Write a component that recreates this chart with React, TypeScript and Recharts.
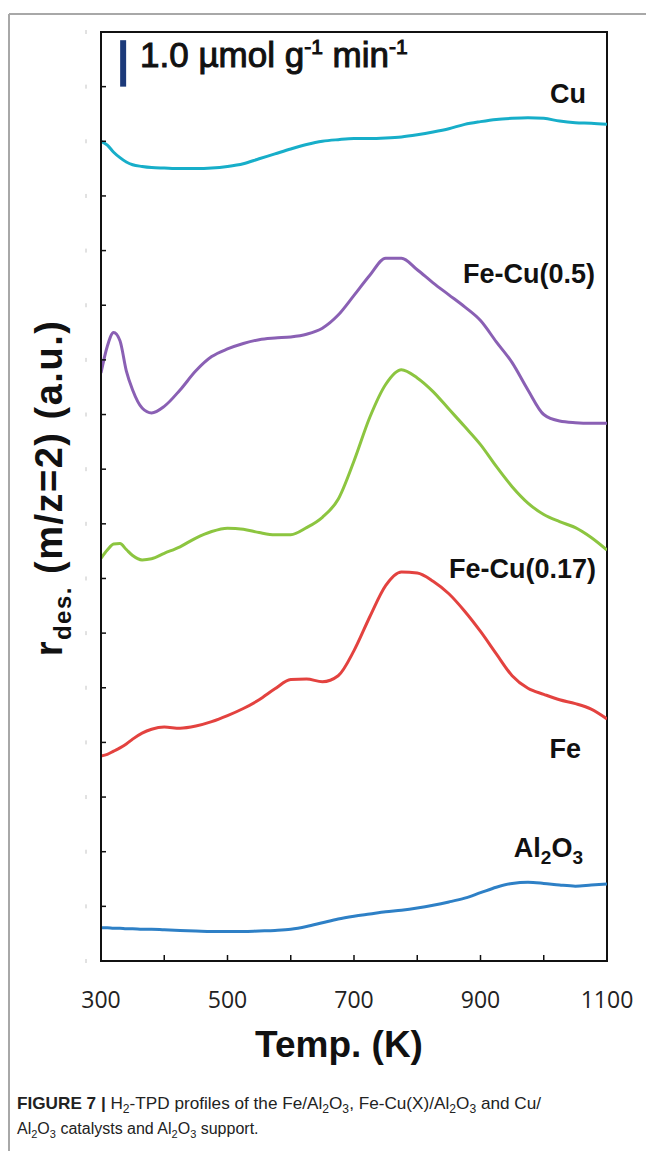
import React from 'react';
import { LineChart, Line, XAxis, YAxis, ReferenceLine, ReferenceArea } from 'recharts';

// temperature grid (K), finer at the start for the low-T peaks
const temps = [300, 310, 320, 330, 340, 350, 365, 380, 400, 425, 450, 475, 500, 525, 550, 575, 600, 625, 650, 675, 700, 725, 750, 775, 800, 825, 850, 875, 900, 925, 950, 975, 1000, 1025, 1050, 1075, 1100];

// offset signals, in y-tick units
const cuVals = [15.0, 14.93, 14.8, 14.7, 14.62, 14.57, 14.54, 14.52, 14.51, 14.5, 14.5, 14.51, 14.54, 14.59, 14.68, 14.77, 14.86, 14.94, 15.0, 15.03, 15.05, 15.05, 15.06, 15.08, 15.12, 15.17, 15.23, 15.31, 15.36, 15.4, 15.42, 15.43, 15.42, 15.37, 15.34, 15.33, 15.31];
const feCu05Vals = [10.76, 11.25, 11.5, 11.35, 10.8, 10.45, 10.12, 10.03, 10.15, 10.45, 10.8, 11.06, 11.2, 11.3, 11.37, 11.4, 11.42, 11.47, 11.58, 11.82, 12.18, 12.55, 12.86, 12.86, 12.65, 12.41, 12.19, 11.97, 11.72, 11.33, 10.95, 10.45, 10.0, 9.88, 9.85, 9.84, 9.84];
const feCu017Vals = [7.37, 7.52, 7.63, 7.64, 7.53, 7.42, 7.34, 7.36, 7.46, 7.58, 7.74, 7.86, 7.92, 7.9, 7.84, 7.8, 7.8, 7.93, 8.12, 8.45, 9.15, 9.95, 10.55, 10.82, 10.67, 10.42, 10.1, 9.78, 9.45, 9.05, 8.68, 8.38, 8.17, 8.04, 7.93, 7.75, 7.52];
const feVals = [3.75, 3.78, 3.84, 3.9, 3.97, 4.06, 4.17, 4.24, 4.28, 4.26, 4.3, 4.38, 4.49, 4.62, 4.78, 4.98, 5.15, 5.16, 5.11, 5.22, 5.68, 6.3, 6.87, 7.12, 7.1, 6.95, 6.72, 6.4, 6.03, 5.62, 5.22, 4.99, 4.88, 4.78, 4.71, 4.61, 4.43];
const al2o3Vals = [0.61, 0.61, 0.6, 0.6, 0.59, 0.59, 0.58, 0.58, 0.57, 0.56, 0.55, 0.54, 0.54, 0.54, 0.55, 0.56, 0.58, 0.63, 0.7, 0.77, 0.82, 0.86, 0.9, 0.93, 0.97, 1.02, 1.08, 1.15, 1.25, 1.35, 1.42, 1.44, 1.42, 1.39, 1.37, 1.39, 1.41];

const xTicks = [300, 400, 500, 600, 700, 800, 900, 1000, 1100];
const xLabels = [300, 500, 700, 900, 1100];
const yTicks = Array.from({ length: 18 }, (_, i) => i);

// 1.0 umol g-1 min-1 scale bar
const scaleBarT = 335;
const scaleBarRange = [16.0, 16.85];

const data = temps.map((T, i) => ({
  T,
  cu: cuVals[i],
  feCu05: feCu05Vals[i],
  feCu017: feCu017Vals[i],
  fe: feVals[i],
  al2o3: al2o3Vals[i],
}));

const series = [
  { key: 'cu', color: '#17aec9' },
  { key: 'feCu05', color: '#8a60b4' },
  { key: 'feCu017', color: '#8cc540' },
  { key: 'fe', color: '#e3423f' },
  { key: 'al2o3', color: '#2e80c6' },
];

const ARIAL = "'Liberation Sans', Arial, sans-serif";

const XTick = (props: any) => {
  const { x, y, payload } = props;
  if (!xLabels.includes(payload.value)) return <g />;
  return (
    <text x={x} y={y} textAnchor="middle" fontFamily="'Open Sans', sans-serif" fontSize={23} fill="#222">
      {payload.value}
    </text>
  );
};

// faint leftover tick-label marks left of the y axis
const YTick = (props: any) => {
  const { x, y } = props;
  return <line x1={x} x2={x} y1={y - 2} y2={y + 2} stroke="#c4c4c4" strokeWidth={1} />;
};

export default function App() {
  return (
    <div style={{ position: 'relative', width: 646, height: 1151, background: '#fff' }}>
      <style>{'body{margin:0}'}</style>
      <div style={{ position: 'absolute', left: 0, top: 0 }}>
        <LineChart width={646} height={1151} data={data} margin={{ top: 32, right: 39, bottom: 160, left: 81 }}>
          <XAxis
            type="number"
            dataKey="T"
            domain={[300, 1100]}
            ticks={xTicks}
            height={30}
            axisLine={{ stroke: '#111', strokeWidth: 2 }}
            tickLine={{ stroke: '#111', strokeWidth: 1.5 }}
            tickSize={-6}
            tickMargin={53}
            tick={<XTick />}
            allowDataOverflow
          />
          <YAxis
            type="number"
            domain={[0, 17]}
            ticks={yTicks}
            width={20}
            axisLine={{ stroke: '#111', strokeWidth: 2 }}
            tickLine={{ stroke: '#111', strokeWidth: 1.5 }}
            tickSize={-5}
            tickMargin={20}
            tick={<YTick />}
            allowDataOverflow
          />
          <ReferenceArea x1={300} x2={1100} y1={0} y2={17} fill="none" fillOpacity={0} stroke="#111" strokeWidth={2} />
          {series.map((s) => (
            <Line
              key={s.key}
              type="monotone"
              dataKey={s.key}
              stroke={s.color}
              strokeWidth={3}
              dot={false}
              isAnimationActive={false}
            />
          ))}
          <ReferenceLine
            segment={[
              { x: scaleBarT, y: scaleBarRange[0] },
              { x: scaleBarT, y: scaleBarRange[1] },
            ]}
            stroke="#1c3a7a"
            strokeWidth={6}
          />
        </LineChart>
      </div>
      <svg width={646} height={1151} style={{ position: 'absolute', left: 0, top: 0, pointerEvents: 'none' }}>
        {/* figure frame */}
        <line x1={9} x2={646} y1={14} y2={14} stroke="#a8a8a8" strokeWidth={2} />
        <line x1={9} x2={9} y1={14} y2={1151} stroke="#a8a8a8" strokeWidth={2} />

        <text x={140} y={67} fontFamily={ARIAL} fontSize={35} fill="#111" stroke="#111" strokeWidth={1}>
          1.0 µmol g<tspan dy={-13} fontSize={21}>-1</tspan>
          <tspan dy={13}> min</tspan>
          <tspan dy={-13} fontSize={21}>-1</tspan>
        </text>

        <g fontFamily={ARIAL} fontWeight="bold" fontSize={27} fill="#111" textAnchor="end">
          <text x={586} y={103}>Cu</text>
          <text x={595} y={283}>Fe-Cu(0.5)</text>
          <text x={596} y={578}>Fe-Cu(0.17)</text>
          <text x={581} y={758}>Fe</text>
          <text x={583} y={857}>
            Al<tspan dy={7} fontSize={19}>2</tspan>
            <tspan dy={-7}>O</tspan>
            <tspan dy={7} fontSize={19}>3</tspan>
          </text>
        </g>

        <text
          transform="translate(62,488) rotate(-90)"
          textAnchor="middle"
          fontFamily={ARIAL}
          fontWeight="bold"
          fontSize={38}
          letterSpacing={1.5}
          fill="#111"
        >
          r<tspan dy={9} fontSize={24}>des.</tspan>
          <tspan dy={-9}> (m/z=2) (a.u.)</tspan>
        </text>

        <text x={339} y={1057} textAnchor="middle" fontFamily={ARIAL} fontWeight="bold" fontSize={37} fill="#111">
          Temp. (K)
        </text>

        <g fontFamily="'Liberation Sans Narrow', 'Arial Narrow', 'Liberation Sans', sans-serif" fill="#222">
          <text x={17} y={1109} fontSize={17} textLength={524} lengthAdjust="spacingAndGlyphs">
            <tspan fontWeight="bold">FIGURE 7 | </tspan>H<tspan dy={4} fontSize={12}>2</tspan>
            <tspan dy={-4}>-TPD profiles of the Fe/Al</tspan>
            <tspan dy={4} fontSize={12}>2</tspan>
            <tspan dy={-4}>O</tspan>
            <tspan dy={4} fontSize={12}>3</tspan>
            <tspan dy={-4}>, Fe-Cu(X)/Al</tspan>
            <tspan dy={4} fontSize={12}>2</tspan>
            <tspan dy={-4}>O</tspan>
            <tspan dy={4} fontSize={12}>3</tspan>
            <tspan dy={-4}> and Cu/</tspan>
          </text>
          <text x={17} y={1134} fontSize={16}>
            Al<tspan dy={4} fontSize={11}>2</tspan>
            <tspan dy={-4}>O</tspan>
            <tspan dy={4} fontSize={11}>3</tspan>
            <tspan dy={-4}> catalysts and Al</tspan>
            <tspan dy={4} fontSize={11}>2</tspan>
            <tspan dy={-4}>O</tspan>
            <tspan dy={4} fontSize={11}>3</tspan>
            <tspan dy={-4}> support.</tspan>
          </text>
        </g>
      </svg>
    </div>
  );
}
